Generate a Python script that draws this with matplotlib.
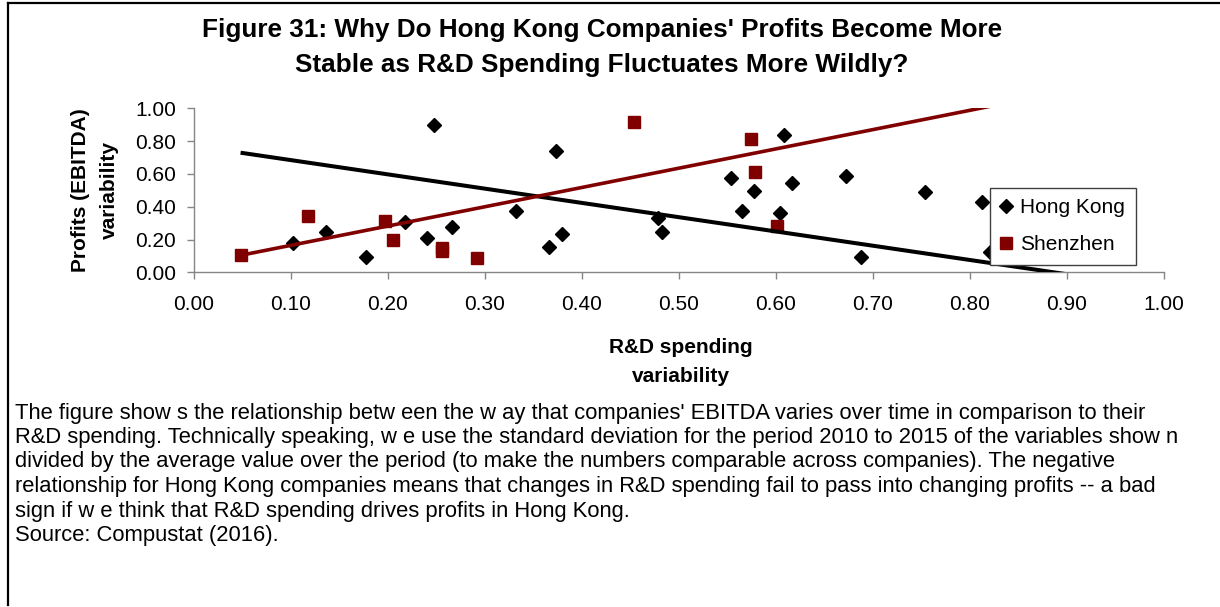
import matplotlib
matplotlib.use("Agg")
import matplotlib.pyplot as plt
from matplotlib.lines import Line2D
import numpy as np

plt.rcParams['font.family'] = ['Liberation Sans', 'DejaVu Sans']

# ---- data ----
hk_x = [0.102, 0.136, 0.177, 0.247, 0.218, 0.240, 0.266, 0.332, 0.373, 0.366, 0.379,
        0.478, 0.482, 0.554, 0.565, 0.577, 0.608, 0.616, 0.604, 0.672, 0.688, 0.754,
        0.812, 0.821]
hk_y = [0.180, 0.248, 0.095, 0.900, 0.305, 0.207, 0.278, 0.376, 0.742, 0.156, 0.232,
        0.329, 0.244, 0.573, 0.376, 0.498, 0.837, 0.546, 0.363, 0.587, 0.095, 0.488,
        0.427, 0.126]
sz_x = [0.048, 0.118, 0.197, 0.205, 0.256, 0.256, 0.292, 0.454, 0.574, 0.578, 0.601]
sz_y = [0.104, 0.345, 0.313, 0.200, 0.150, 0.130, 0.089, 0.918, 0.811, 0.613, 0.282]

# linear trend lines as drawn in the picture: (intercept, slope)
hk_trend = (0.771, -0.870)
sz_trend = (0.047, 1.176)

series_names = ["Hong Kong", "Shenzhen"]
x_ticks = [0.0, 0.1, 0.2, 0.3, 0.4, 0.5, 0.6, 0.7, 0.8, 0.9, 1.0]
y_ticks = [0.0, 0.2, 0.4, 0.6, 0.8, 1.0]

title_lines = ["Figure 31: Why Do Hong Kong Companies' Profits Become More",
               "Stable as R&D Spending Fluctuates More Wildly?"]
x_label = "R&D spending\nvariability"
y_label = "Profits (EBITDA)\nvariability"
caption_lines = [
    "The figure show s the relationship betw een the w ay that companies' EBITDA varies over time in comparison to their",
    "R&D spending. Technically speaking, w e use the standard deviation for the period 2010 to 2015 of the variables show n",
    "divided by the average value over the period (to make the numbers comparable across companies). The negative",
    "relationship for Hong Kong companies means that changes in R&D spending fail to pass into changing profits -- a bad",
    "sign if w e think that R&D spending drives profits in Hong Kong.",
    "Source: Compustat (2016).",
]

W, H = 1220, 607
fig = plt.figure(figsize=(W / 100, H / 100), dpi=100)
fig.patch.set_facecolor("white")

def fx(px):
    return px / W

def fy(py):
    return 1 - py / H

ax_left, ax_right, ax_top, ax_bottom = 194, 1164, 108.3, 272.3
ax = fig.add_axes([fx(ax_left), fy(ax_bottom), fx(ax_right - ax_left), (ax_bottom - ax_top) / H])

red = "#800000"
axis_col = "#868686"

ax.plot(hk_x, hk_y, linestyle="none", marker="D", markersize=7.4, color="black",
        label=series_names[0], zorder=3)
ax.plot(sz_x, sz_y, linestyle="none", marker="s", markersize=8.6, color=red,
        label=series_names[1], zorder=3)

all_x = hk_x + sz_x
xt = np.array([min(all_x), 1.0])
ax.plot(xt, hk_trend[0] + hk_trend[1] * xt, color="black", lw=2.9, zorder=4,
        solid_capstyle="butt")
ax.plot(xt, sz_trend[0] + sz_trend[1] * xt, color=red, lw=2.6, zorder=4,
        solid_capstyle="butt")

ax.set_xlim(0, 1.0)
ax.set_ylim(0, 1.0)
ax.set_xticks(x_ticks)
ax.set_yticks(y_ticks)
ax.set_xticklabels([f"{v:.2f}" for v in x_ticks])
ax.set_yticklabels([f"{v:.2f}" for v in y_ticks])
for s in ["top", "right"]:
    ax.spines[s].set_visible(False)
for s in ["left", "bottom"]:
    ax.spines[s].set_color(axis_col)
    ax.spines[s].set_linewidth(1.0)
ax.tick_params(axis="both", direction="out", length=5, width=1.0, color=axis_col,
               labelsize=15, labelcolor="black")
ax.tick_params(axis="x", pad=11)
ax.tick_params(axis="y", pad=8)
ax.set_facecolor("none")

# axis titles
fig.text(fx(681), fy(362), x_label, ha="center", va="center", fontsize=15,
         fontweight="bold", linespacing=1.7)
fig.text(fx(95), fy(190), y_label, ha="center", va="center", fontsize=15,
         fontweight="bold", rotation=90, linespacing=1.65)

# title
fig.text(fx(602), fy(30), title_lines[0], ha="center", va="center", fontsize=18.8,
         fontweight="bold")
fig.text(fx(602), fy(65), title_lines[1], ha="center", va="center", fontsize=18.8,
         fontweight="bold")

# legend
handles = [Line2D([], [], linestyle="none", marker="D", markersize=7.4, color="black"),
           Line2D([], [], linestyle="none", marker="s", markersize=8.6, color=red)]
leg = fig.legend(handles, series_names, loc="upper left",
                 bbox_to_anchor=(fx(990), fy(188)), fontsize=15, frameon=True,
                 fancybox=False, edgecolor="#404040", framealpha=1,
                 handlelength=0.55, handletextpad=0.4, borderpad=0.5,
                 labelspacing=0.85, borderaxespad=0)
leg.get_frame().set_linewidth(1.0)

# caption
for i, line in enumerate(caption_lines):
    fig.text(fx(15), fy(413 + i * 24.5), line, ha="left", va="center", fontsize=15.8)

# outer frame (top and left edges)
fig.add_artist(Line2D([fx(7.5), 1.0], [fy(3), fy(3)], color="black", lw=1.6,
                      transform=fig.transFigure))
fig.add_artist(Line2D([fx(7.5), fx(7.5)], [fy(3), fy(605)], color="black", lw=1.6,
                      transform=fig.transFigure))

fig.savefig("out.png", dpi=100, facecolor="white")
